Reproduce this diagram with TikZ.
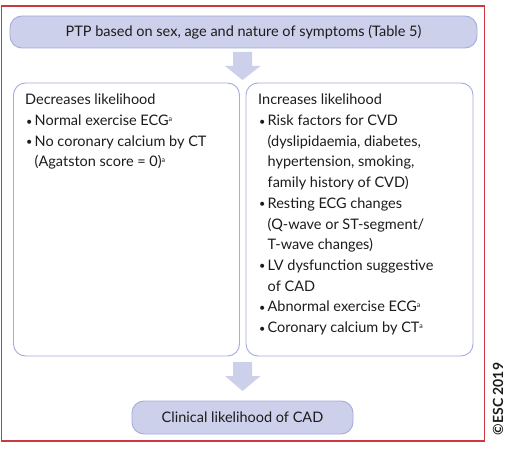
\documentclass[tikz,border=0pt]{standalone}
\usepackage{fontspec}
\setmainfont{Lato}
\definecolor{boxfill}{RGB}{205,208,234}
\definecolor{boxline}{RGB}{165,172,220}
\definecolor{frame}{RGB}{202,56,66}
\definecolor{txt}{RGB}{28,28,28}
\tikzset{
  pill/.style={draw=boxline, line width=0.9pt, fill=boxfill, rounded corners=12pt, inner sep=0pt, text=txt, font=\fontsize{14.5}{17}\selectfont},
  panel/.style={draw=boxline, line width=0.9pt, fill=white, rounded corners=12pt, inner sep=0pt},
  bigarrow/.style={fill=boxfill, draw=none},
  listtext/.style={anchor=north west, align=left, inner sep=0pt, text=txt, font=\fontsize{14.5}{20.7}\selectfont}
}
\newcommand{\bul}{\makebox[9.5pt][l]{\hspace{1pt}\raisebox{0.5pt}{\scalebox{0.75}{\textbullet}}}}
\newcommand{\ind}{\hspace{9.5pt}}
\newcommand{\supa}{\raisebox{4pt}{\fontsize{7}{7}\selectfont a}}
\begin{document}
\begin{tikzpicture}[x=1pt,y=-1pt]
\useasboundingbox (0,0) rectangle (514,449);
% red frame
\draw[frame, line width=1.8pt] (1.5,6) rectangle (484.5,441);
% top box
\node[pill, minimum width=467pt, minimum height=32pt] (top) at (243.5,32) {PTP based on sex, age and nature of symptoms (Table 5)};
% panels
\node[panel, minimum width=226pt, minimum height=273pt] (left) at (126.5,219.5) {};
\node[panel, minimum width=227pt, minimum height=273pt] (right) at (359.5,219.5) {};
% bottom box
\node[pill, minimum width=221pt, minimum height=33pt] (bot) at (242.5,417.5) {Clinical likelihood of CAD};
% arrows
\coordinate (a1) at (242.5,52);
\fill[bigarrow] ([xshift=-9.5pt]a1) -- ++(0,14) -- ++(-8,0) -- (242.5,80) -- (260.5,66) -- ++(-8.5,0) -- ++(0,-14) -- cycle;
\coordinate (a2) at (242.5,362);
\fill[bigarrow] ([xshift=-9.5pt]a2) -- ++(0,14) -- ++(-8,0) -- (242.5,391) -- (260.5,376) -- ++(-8.5,0) -- ++(0,-14) -- cycle;
% texts
\node[listtext] (ltext) at (25,94) {Decreases likelihood\\
\bul Normal exercise ECG\supa\\
\bul No coronary calcium by CT\\
\ind(Agatston score = 0)\supa};
\node[listtext] (rtext) at (258,94) {Increases likelihood\\
\bul Risk factors for CVD\\
\ind(dyslipidaemia, diabetes,\\
\ind hypertension, smoking,\\
\ind family history of CVD)\\
\bul Resting ECG changes\\
\ind(Q-wave or ST-segment/\\
\ind T-wave changes)\\
\bul LV dysfunction suggestive\\
\ind of CAD\\
\bul Abnormal exercise ECG\supa\\
\bul Coronary calcium by CT\supa};
% copyright
\node[rotate=90, text=txt, font=\fontsize{14}{16}\selectfont\bfseries, inner sep=0pt] (esc) at (498,399) {©ESC 2019};
\end{tikzpicture}
\end{document}
